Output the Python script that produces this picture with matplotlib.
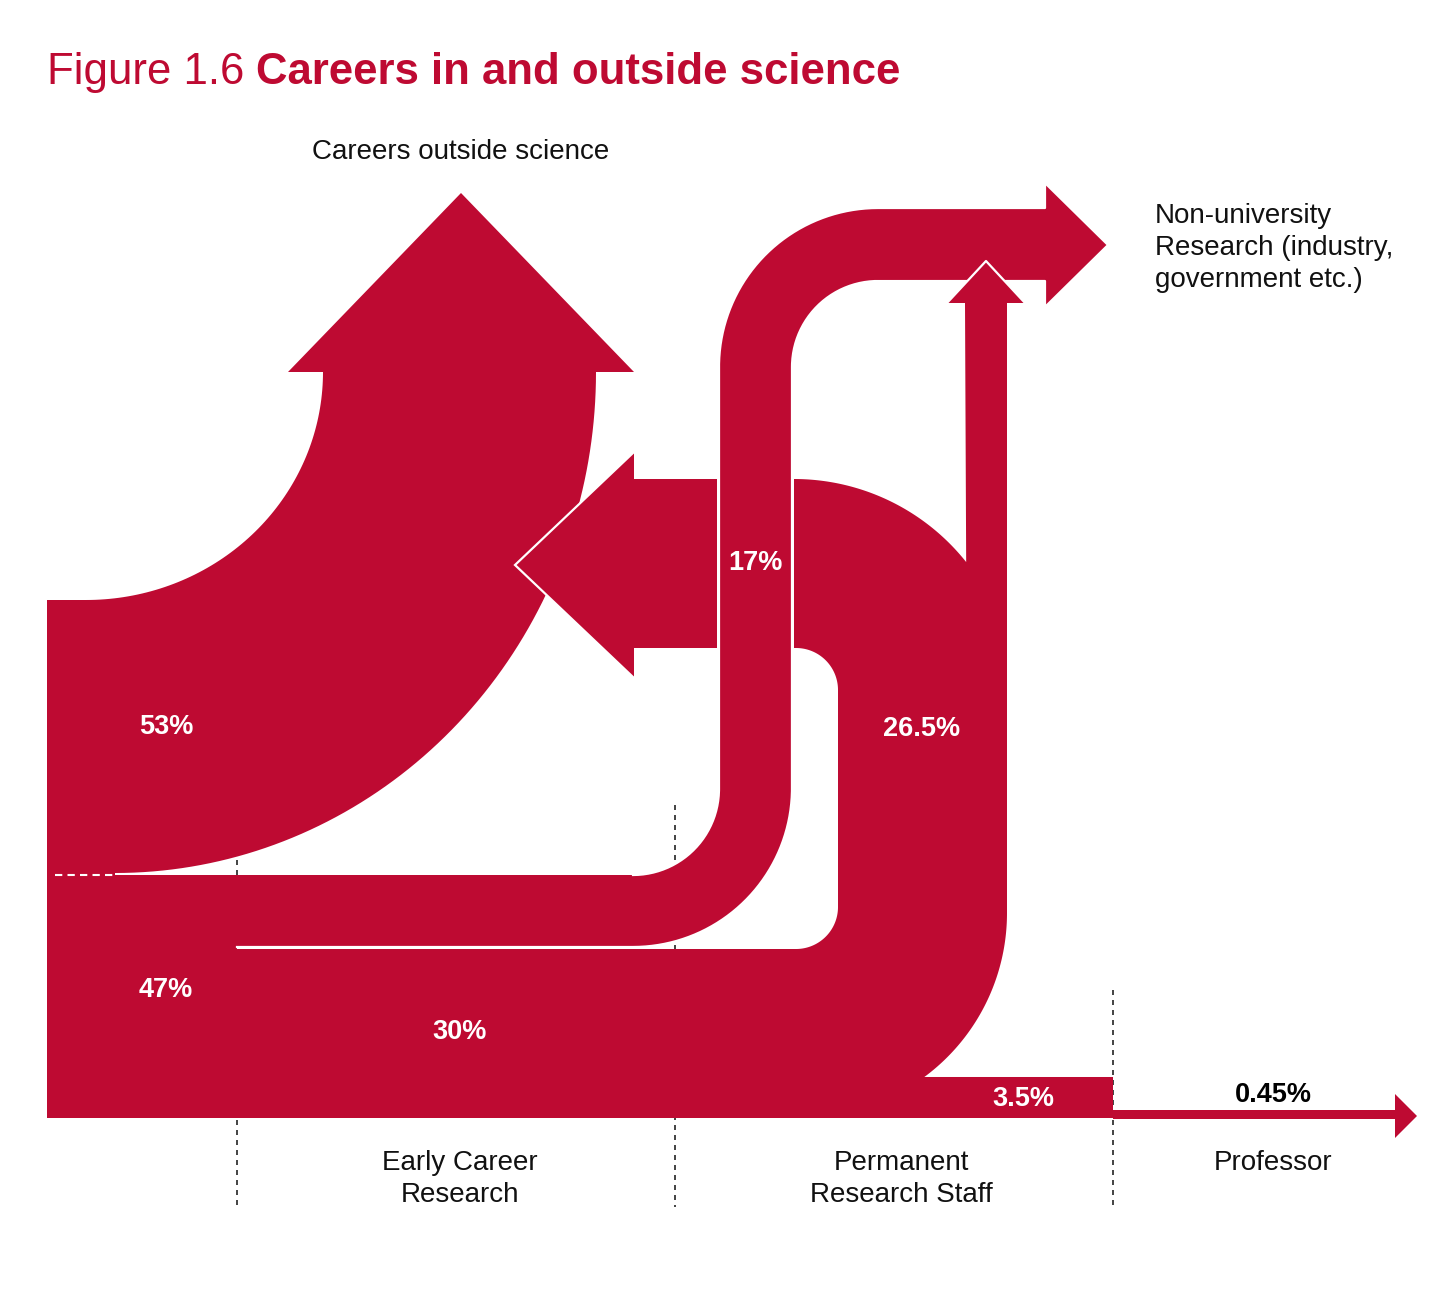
import matplotlib
matplotlib.use("Agg")
import matplotlib.pyplot as plt
import numpy as np
from matplotlib.patches import Polygon

plt.rcParams["font.family"] = ["Liberation Sans", "DejaVu Sans"]

RED = "#BE0A32"

# chart content
title_regular = "Figure 1.6 "
title_bold = "Careers in and outside science"
stage_names = ["Early Career\nResearch", "Permanent\nResearch Staff", "Professor"]
exit_names = ["Careers outside science", "Non-university\nResearch (industry,\ngovernment etc.)"]
flow_names = ["to outside science", "stay in science", "early career -> permanent",
              "early career -> non-university", "permanent -> outside / non-university",
              "permanent -> professor", "professor"]
flow_values = [53, 47, 30, 17, 26.5, 3.5, 0.45]

# layout (pixel space, y pointing down)
label_xy = [(166, 727), (166, 990), (460, 1032), (755, 563), (922, 729), (1023, 1099), (1273, 1095)]
label_colors = ["white"] * 6 + ["black"]
stage_x = [460, 901, 1273]
divider_x = [237, 675, 1113]
divider_top = [850, 805, 990]


def arc(cx, cy, rx, ry, a0, a1, n=80):
    t = np.radians(np.linspace(a0, a1, n))
    return [tuple(p) for p in np.column_stack([cx + rx * np.cos(t), cy + ry * np.sin(t)])]


fig = plt.figure(figsize=(14.48, 13.06), dpi=100)
ax = fig.add_axes([0, 0, 1, 1])
ax.set_xlim(0, 1448)
ax.set_ylim(1306, 0)
ax.axis("off")

# stage dividers
for x, y0 in zip(divider_x, divider_top):
    ax.plot([x, x], [y0, 1207], color="#222222", lw=1.2, ls=(0, (3, 3)), zorder=1)

# 53% -> careers outside science
outside = ([(47, 880), (47, 600)] + arc(86, 372, 237, 228, 90, 0)
           + [(288, 372), (461, 193), (634, 372)]
           + arc(115, 372, 481, 501, 0, 90) + [(115, 880)])
ax.add_patch(Polygon(outside, closed=True, fc=RED, ec="none", zorder=2))

# 47% block, 30% band, permanent staff
perm = ([(47, 1118), (1113, 1118), (1113, 1077)] + arc(803, 913, 204, 204, 53.5, 0)
        + [(1007, 303), (965, 303)] + arc(794, 699, 220, 220, -38.5, -90)
        + [(794, 648)] + arc(796, 690, 42, 42, -90, 0) + arc(796, 907, 42, 42, 0, 90)
        + [(237, 949), (237, 875), (47, 875)])
ax.add_patch(Polygon(perm, closed=True, fc=RED, ec="none", zorder=2))

# professor arrow
prof = [(1113, 1110), (1395, 1110), (1395, 1094), (1417, 1116), (1395, 1138),
        (1395, 1119), (1113, 1119)]
ax.add_patch(Polygon(prof, closed=True, fc=RED, ec="none", zorder=2))

# permanent -> outside science arrow
left_arrow = [(515, 565), (634, 452), (634, 479), (717, 479), (717, 648), (634, 648), (634, 678)]
ax.add_patch(Polygon(left_arrow, closed=True, fc=RED, ec="none", zorder=3))
ax.plot([634, 515, 634], [452, 565, 678], color="white", lw=1.6, zorder=3.1,
        solid_joinstyle="miter")

# 17% early career -> non-university research
band = ([(230, 875), (633, 875)] + arc(633, 789, 86, 86, 90, 0)
        + arc(878, 367, 159, 159, 180, 270)
        + [(1045, 208), (1045, 183), (1108, 245), (1045, 307), (1045, 281)]
        + arc(878, 367, 86, 86, 270, 180)
        + arc(633, 788, 159, 159, 0, 90) + [(230, 947)])
ax.add_patch(Polygon(band, closed=True, fc=RED, ec="none", zorder=4))
edge = np.array(band[1:-1] + [(237, 947)])
ax.plot(edge[:, 0], edge[:, 1], color="white", lw=1.6, zorder=4.1)

# permanent -> non-university arrow head
head = [(947, 303), (986, 261), (1025, 303)]
ax.add_patch(Polygon(head, closed=True, fc=RED, ec="none", zorder=5))
ax.plot([947, 986, 1025], [303, 261, 303], color="white", lw=1.6, zorder=5.1)

# split between 53% and 47%
ax.plot([55, 115], [875, 875], color="white", lw=1.5, ls=(0, (3.5, 2.5)), zorder=6)

# flow labels
for v, (x, y), c in zip(flow_values, label_xy, label_colors):
    ax.text(x, y, f"{v:g}%", color=c, fontsize=19.5, fontweight="bold",
            ha="center", va="center", zorder=7)

# stage labels
for name, x in zip(stage_names, stage_x):
    ax.text(x, 1150, name, fontsize=20, ha="center", va="top", linespacing=1.3,
            color="#111111")

ax.text(461, 152, exit_names[0], fontsize=20, ha="center", va="center", color="#111111")
ax.text(1155, 248, exit_names[1], fontsize=20, ha="left", va="center",
        linespacing=1.3, color="#111111")

# title
t1 = ax.text(47, 84, title_regular, fontsize=31.5, color=RED, va="baseline", ha="left")
ax.annotate(title_bold, xy=(1, 0), xycoords=t1, fontsize=31.5, color=RED,
            fontweight="bold", va="bottom", ha="left")

fig.savefig("out.png", dpi=100)
